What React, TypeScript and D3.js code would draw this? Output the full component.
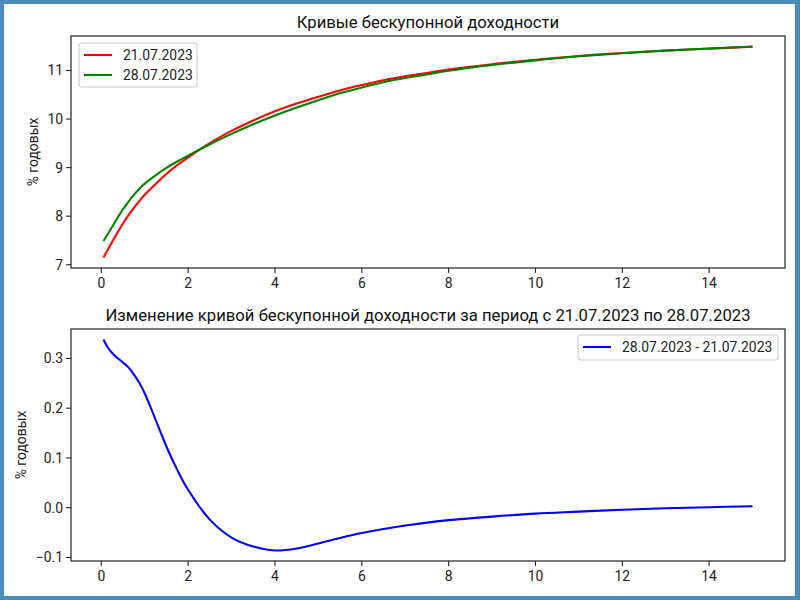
import { useEffect, useRef } from 'react'
import * as d3 from 'd3'

// Сроки до погашения, лет
const tenors = [0.05, 0.15, 0.25, 0.375, 0.5, 0.625, 0.75, 0.875, 1, 1.25, 1.5, 1.75, 2, 2.5, 3, 3.5, 4, 4.5, 5, 5.5, 6, 6.5, 7, 7.5, 8, 9, 10, 11, 12, 13, 14, 15]

// КБД на 21.07.2023, % годовых
const curveJul21 = [7.15, 7.31, 7.47, 7.665, 7.85, 8.015, 8.17, 8.31, 8.44, 8.665, 8.87, 9.05, 9.21, 9.505, 9.755, 9.97, 10.16, 10.32, 10.46, 10.59, 10.7, 10.8, 10.88, 10.95, 11.02, 11.13, 11.22, 11.3, 11.36, 11.41, 11.45, 11.49]

// Изменение 28.07.2023 - 21.07.2023, п.п.
const change = [0.338, 0.322, 0.311, 0.301, 0.292, 0.282, 0.268, 0.251, 0.23, 0.177, 0.123, 0.076, 0.036, -0.024, -0.06, -0.078, -0.086, -0.082, -0.072, -0.061, -0.051, -0.043, -0.036, -0.03, -0.025, -0.018, -0.012, -0.008, -0.004, -0.001, 0.001, 0.003]

// КБД на 28.07.2023
const curveJul28 = curveJul21.map((v, i) => v + change[i])

const xTicks = [0, 2, 4, 6, 8, 10, 12, 14]
const yTicksTop = [7, 8, 9, 10, 11]
const yTicksBottom = [-0.1, 0, 0.1, 0.2, 0.3]

const FONT = 'Roboto, "DejaVu Sans", sans-serif'

export default function App() {
  const svgRef = useRef<SVGSVGElement>(null)

  useEffect(() => {
    document.body.style.margin = '0'
    if (!svgRef.current) return
    const svg = d3.select(svgRef.current)
    svg.selectAll('*').remove()

    const width = 800
    const height = 600

    // frame
    svg.append('rect').attr('width', width).attr('height', height).attr('fill', '#4a8bba')
    svg.append('rect').attr('x', 4).attr('y', 4).attr('width', 791).attr('height', 592).attr('fill', '#fff')

    const left = 71
    const right = 785

    const pad = (ext: [number, number]) => {
      const r = ext[1] - ext[0]
      return [ext[0] - 0.05 * r, ext[1] + 0.05 * r]
    }

    const xExt = d3.extent(tenors) as [number, number]

    const drawPanel = (opts: {
      top: number
      bottom: number
      series: { values: number[]; color: string; label: string }[]
      yTicks: number[]
      fmt: (v: number) => string
      title: string
      labelX: number
      legend: { x: number; y: number; w: number; h: number }
    }) => {
      const { top, bottom, series, yTicks, fmt, title, labelX, legend } = opts
      const all = series.flatMap((s) => s.values)
      const x = d3.scaleLinear().domain(pad(xExt)).range([left, right])
      const y = d3.scaleLinear().domain(pad(d3.extent(all) as [number, number])).range([bottom, top])

      const g = svg.append('g')

      // lines
      series.forEach((s) => {
        const line = d3
          .line<number>()
          .x((_, i) => x(tenors[i]))
          .y((d) => y(d))
          .curve(d3.curveCatmullRom.alpha(0.5))
        g.append('path')
          .attr('d', line(s.values))
          .attr('fill', 'none')
          .attr('stroke', s.color)
          .attr('stroke-width', 2.08)
      })

      // spines
      g.append('rect')
        .attr('x', left)
        .attr('y', top)
        .attr('width', right - left)
        .attr('height', bottom - top)
        .attr('fill', 'none')
        .attr('stroke', '#222')
        .attr('stroke-width', 1.2)

      // x ticks
      xTicks.forEach((t) => {
        g.append('line')
          .attr('x1', x(t))
          .attr('x2', x(t))
          .attr('y1', bottom)
          .attr('y2', bottom + 4.9)
          .attr('stroke', '#222')
          .attr('stroke-width', 1.1)
        g.append('text')
          .attr('x', x(t))
          .attr('y', bottom + 19.8)
          .attr('text-anchor', 'middle')
          .attr('font-size', 13.9)
          .attr('font-family', FONT)
          .attr('fill', '#222')
          .text(String(t))
      })

      // y ticks
      yTicks.forEach((t) => {
        g.append('line')
          .attr('x1', left - 4.9)
          .attr('x2', left)
          .attr('y1', y(t))
          .attr('y2', y(t))
          .attr('stroke', '#222')
          .attr('stroke-width', 1.1)
        g.append('text')
          .attr('x', left - 8)
          .attr('y', y(t) + 5)
          .attr('text-anchor', 'end')
          .attr('font-size', 13.9)
          .attr('font-family', FONT)
          .attr('fill', '#222')
          .text(fmt(t))
      })

      // y label
      g.append('text')
        .attr('transform', `translate(${labelX},${(top + bottom) / 2}) rotate(-90)`)
        .attr('text-anchor', 'middle')
        .attr('font-size', 13.9)
        .attr('font-family', FONT)
        .attr('fill', '#222')
        .text('% годовых')

      // title
      g.append('text')
        .attr('x', (left + right) / 2)
        .attr('y', top - 8)
        .attr('text-anchor', 'middle')
        .attr('font-size', 16.7)
        .attr('font-family', FONT)
        .attr('fill', '#111')
        .text(title)

      // legend
      g.append('rect')
        .attr('x', legend.x)
        .attr('y', legend.y)
        .attr('width', legend.w)
        .attr('height', legend.h)
        .attr('rx', 3)
        .attr('fill', 'rgba(255,255,255,0.8)')
        .attr('stroke', '#cccccc')
        .attr('stroke-width', 1.1)
      series.forEach((s, i) => {
        const ly = legend.y + 12 + i * 20
        g.append('line')
          .attr('x1', legend.x + 5)
          .attr('x2', legend.x + 33)
          .attr('y1', ly)
          .attr('y2', ly)
          .attr('stroke', s.color)
          .attr('stroke-width', 2.08)
        g.append('text')
          .attr('x', legend.x + 44)
          .attr('y', ly + 5)
          .attr('font-size', 13.9)
          .attr('font-family', FONT)
          .attr('fill', '#222')
          .text(s.label)
      })
    }

    drawPanel({
      top: 36,
      bottom: 268,
      series: [
        { values: curveJul21, color: '#ff0000', label: '21.07.2023' },
        { values: curveJul28, color: '#008000', label: '28.07.2023' },
      ],
      yTicks: yTicksTop,
      fmt: (v) => String(v),
      title: 'Кривые бескупонной доходности',
      labelX: 38,
      legend: { x: 79, y: 43, w: 118, h: 44 },
    })

    drawPanel({
      top: 329,
      bottom: 561,
      series: [{ values: change, color: '#0000ff', label: '28.07.2023 - 21.07.2023' }],
      yTicks: yTicksBottom,
      fmt: (v) => d3.format('.1f')(v).replace('-', '\u2212'),
      title: 'Изменение кривой бескупонной доходности за период с 21.07.2023 по 28.07.2023',
      labelX: 26,
      legend: { x: 578, y: 335, w: 200, h: 25 },
    })
  }, [])

  return <svg ref={svgRef} width={800} height={600} style={{ display: 'block' }} />
}
